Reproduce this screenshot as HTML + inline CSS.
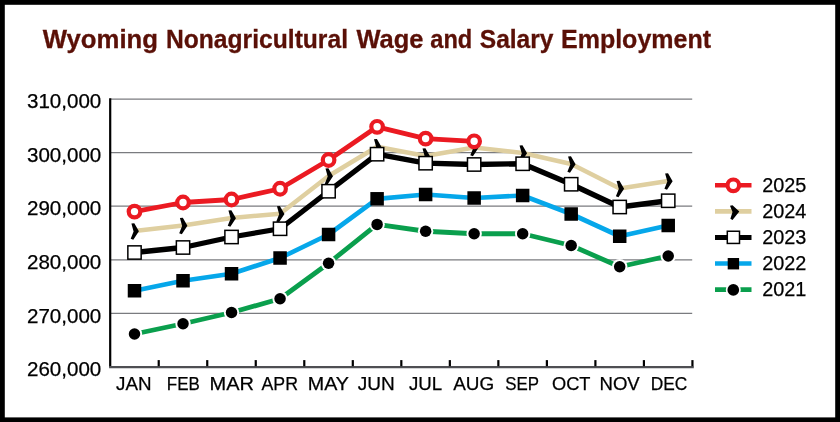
<!DOCTYPE html>
<html lang="en"><head><meta charset="utf-8"><title>Wyoming Nonagricultural Wage and Salary Employment</title>
<style>
html,body{margin:0;padding:0;background:#000;}
body{width:840px;height:422px;overflow:hidden;}
svg{display:block;}
text{font-family:"Liberation Sans",sans-serif;}
.t{font-weight:bold;font-size:24.9px;fill:#5a1007;stroke:#5a1007;stroke-width:0.3px;}
.y{font-size:19.7px;fill:#000;text-anchor:end;stroke:#000;stroke-width:0.25px;}
.x{font-size:18.8px;fill:#000;text-anchor:middle;stroke:#000;stroke-width:0.25px;}
.l{font-size:19.7px;fill:#000;stroke:#000;stroke-width:0.25px;}
</style></head><body>
<svg width="840" height="422" viewBox="0 0 840 422">
<rect x="0" y="0" width="840" height="422" fill="#000"/>
<rect x="4.8" y="4.8" width="830.4" height="412.6" fill="#fff"/>

<g class="t">
<text x="42.75" y="48.4" textLength="115.25" lengthAdjust="spacingAndGlyphs">Wyoming</text>
<text x="166.00" y="48.4" textLength="182.00" lengthAdjust="spacingAndGlyphs">Nonagricultural</text>
<text x="356.50" y="48.4" textLength="67.00" lengthAdjust="spacingAndGlyphs">Wage</text>
<text x="430.25" y="48.4" textLength="42.00" lengthAdjust="spacingAndGlyphs">and</text>
<text x="479.75" y="48.4" textLength="73.75" lengthAdjust="spacingAndGlyphs">Salary</text>
<text x="561.00" y="48.4" textLength="150.00" lengthAdjust="spacingAndGlyphs">Employment</text>
</g>
<line x1="110.2" y1="99.00" x2="692.2" y2="99.00" stroke="#7a7b7f" stroke-width="1.25"/>
<line x1="110.2" y1="152.62" x2="692.2" y2="152.62" stroke="#7a7b7f" stroke-width="1.25"/>
<line x1="110.2" y1="206.24" x2="692.2" y2="206.24" stroke="#7a7b7f" stroke-width="1.25"/>
<line x1="110.2" y1="259.86" x2="692.2" y2="259.86" stroke="#7a7b7f" stroke-width="1.25"/>
<line x1="110.2" y1="313.48" x2="692.2" y2="313.48" stroke="#7a7b7f" stroke-width="1.25"/>
<g class="y">
<text x="101.3" y="108.20" textLength="74.3" lengthAdjust="spacingAndGlyphs">310,000</text>
<text x="101.3" y="161.82" textLength="74.3" lengthAdjust="spacingAndGlyphs">300,000</text>
<text x="101.3" y="215.44" textLength="74.3" lengthAdjust="spacingAndGlyphs">290,000</text>
<text x="101.3" y="269.06" textLength="74.3" lengthAdjust="spacingAndGlyphs">280,000</text>
<text x="101.3" y="322.68" textLength="74.3" lengthAdjust="spacingAndGlyphs">270,000</text>
<text x="101.3" y="376.30" textLength="74.3" lengthAdjust="spacingAndGlyphs">260,000</text>
</g>
<g class="x">
<text x="133.75" y="389.7" textLength="35.50" lengthAdjust="spacingAndGlyphs">JAN</text>
<text x="183.30" y="389.7" textLength="33.00" lengthAdjust="spacingAndGlyphs">FEB</text>
<text x="231.75" y="389.7" textLength="44.50" lengthAdjust="spacingAndGlyphs">MAR</text>
<text x="279.75" y="389.7" textLength="36.50" lengthAdjust="spacingAndGlyphs">APR</text>
<text x="328.40" y="389.7" textLength="41.25" lengthAdjust="spacingAndGlyphs">MAY</text>
<text x="376.25" y="389.7" textLength="37.00" lengthAdjust="spacingAndGlyphs">JUN</text>
<text x="425.60" y="389.7" textLength="33.25" lengthAdjust="spacingAndGlyphs">JUL</text>
<text x="473.75" y="389.7" textLength="41.00" lengthAdjust="spacingAndGlyphs">AUG</text>
<text x="522.10" y="389.7" textLength="33.75" lengthAdjust="spacingAndGlyphs">SEP</text>
<text x="571.25" y="389.7" textLength="38.50" lengthAdjust="spacingAndGlyphs">OCT</text>
<text x="619.60" y="389.7" textLength="40.25" lengthAdjust="spacingAndGlyphs">NOV</text>
<text x="669.00" y="389.7" textLength="36.50" lengthAdjust="spacingAndGlyphs">DEC</text>
</g>
<polyline points="134.50,334.00 183.02,323.75 231.54,312.50 280.06,298.75 328.58,263.25 377.10,224.40 425.62,231.25 474.14,233.75 522.66,233.75 571.18,245.50 619.70,266.75 668.22,256.00" fill="none" stroke="#0a9f4d" stroke-width="4.8" stroke-linejoin="round"/>
<circle cx="134.50" cy="334.00" r="7.7" fill="#fff"/><circle cx="134.50" cy="334.00" r="5.75" fill="#000"/>
<circle cx="183.02" cy="323.75" r="7.7" fill="#fff"/><circle cx="183.02" cy="323.75" r="5.75" fill="#000"/>
<circle cx="231.54" cy="312.50" r="7.7" fill="#fff"/><circle cx="231.54" cy="312.50" r="5.75" fill="#000"/>
<circle cx="280.06" cy="298.75" r="7.7" fill="#fff"/><circle cx="280.06" cy="298.75" r="5.75" fill="#000"/>
<circle cx="328.58" cy="263.25" r="7.7" fill="#fff"/><circle cx="328.58" cy="263.25" r="5.75" fill="#000"/>
<circle cx="377.10" cy="224.40" r="7.7" fill="#fff"/><circle cx="377.10" cy="224.40" r="5.75" fill="#000"/>
<circle cx="425.62" cy="231.25" r="7.7" fill="#fff"/><circle cx="425.62" cy="231.25" r="5.75" fill="#000"/>
<circle cx="474.14" cy="233.75" r="7.7" fill="#fff"/><circle cx="474.14" cy="233.75" r="5.75" fill="#000"/>
<circle cx="522.66" cy="233.75" r="7.7" fill="#fff"/><circle cx="522.66" cy="233.75" r="5.75" fill="#000"/>
<circle cx="571.18" cy="245.50" r="7.7" fill="#fff"/><circle cx="571.18" cy="245.50" r="5.75" fill="#000"/>
<circle cx="619.70" cy="266.75" r="7.7" fill="#fff"/><circle cx="619.70" cy="266.75" r="5.75" fill="#000"/>
<circle cx="668.22" cy="256.00" r="7.7" fill="#fff"/><circle cx="668.22" cy="256.00" r="5.75" fill="#000"/>
<polyline points="134.50,290.75 183.02,280.75 231.54,273.75 280.06,258.00 328.58,234.50 377.10,198.80 425.62,194.50 474.14,198.00 522.66,195.50 571.18,214.00 619.70,236.25 668.22,225.50" fill="none" stroke="#06a7ea" stroke-width="4.7" stroke-linejoin="round"/>
<rect x="127.75" y="284.00" width="13.5" height="13.5" fill="#000"/>
<rect x="176.27" y="274.00" width="13.5" height="13.5" fill="#000"/>
<rect x="224.79" y="267.00" width="13.5" height="13.5" fill="#000"/>
<rect x="273.31" y="251.25" width="13.5" height="13.5" fill="#000"/>
<rect x="321.83" y="227.75" width="13.5" height="13.5" fill="#000"/>
<rect x="370.35" y="192.05" width="13.5" height="13.5" fill="#000"/>
<rect x="418.87" y="187.75" width="13.5" height="13.5" fill="#000"/>
<rect x="467.39" y="191.25" width="13.5" height="13.5" fill="#000"/>
<rect x="515.91" y="188.75" width="13.5" height="13.5" fill="#000"/>
<rect x="564.43" y="207.25" width="13.5" height="13.5" fill="#000"/>
<rect x="612.95" y="229.50" width="13.5" height="13.5" fill="#000"/>
<rect x="661.47" y="218.75" width="13.5" height="13.5" fill="#000"/>
<polyline points="134.50,231.00 183.02,225.50 231.54,218.00 280.06,213.75 328.58,176.00 377.10,146.70 425.62,156.00 474.14,147.50 522.66,153.00 571.18,164.00 619.70,188.50 668.22,181.00" fill="none" stroke="#dfcfa0" stroke-width="4.5" stroke-linejoin="round"/>
<polygon points="131.40,223.50 134.30,223.20 138.90,231.20 133.30,239.80 130.70,238.70 133.60,231.50" fill="#000"/>
<polygon points="179.92,218.00 182.82,217.70 187.42,225.70 181.82,234.30 179.22,233.20 182.12,226.00" fill="#000"/>
<polygon points="228.44,210.50 231.34,210.20 235.94,218.20 230.34,226.80 227.74,225.70 230.64,218.50" fill="#000"/>
<polygon points="276.96,206.25 279.86,205.95 284.46,213.95 278.86,222.55 276.26,221.45 279.16,214.25" fill="#000"/>
<polygon points="325.48,168.50 328.38,168.20 332.98,176.20 327.38,184.80 324.78,183.70 327.68,176.50" fill="#000"/>
<polygon points="374.00,139.20 376.90,138.90 381.50,146.90 375.90,155.50 373.30,154.40 376.20,147.20" fill="#000"/>
<polygon points="422.52,148.50 425.42,148.20 430.02,156.20 424.42,164.80 421.82,163.70 424.72,156.50" fill="#000"/>
<polygon points="471.04,140.00 473.94,139.70 478.54,147.70 472.94,156.30 470.34,155.20 473.24,148.00" fill="#000"/>
<polygon points="519.56,145.50 522.46,145.20 527.06,153.20 521.46,161.80 518.86,160.70 521.76,153.50" fill="#000"/>
<polygon points="568.08,156.50 570.98,156.20 575.58,164.20 569.98,172.80 567.38,171.70 570.28,164.50" fill="#000"/>
<polygon points="616.60,181.00 619.50,180.70 624.10,188.70 618.50,197.30 615.90,196.20 618.80,189.00" fill="#000"/>
<polygon points="665.12,173.50 668.02,173.20 672.62,181.20 667.02,189.80 664.42,188.70 667.32,181.50" fill="#000"/>
<polyline points="134.50,252.50 183.02,247.50 231.54,237.00 280.06,228.75 328.58,191.25 377.10,154.20 425.62,163.20 474.14,164.50 522.66,163.75 571.18,184.25 619.70,207.00 668.22,200.75" fill="none" stroke="#000" stroke-width="5.3" stroke-linejoin="round"/>
<rect x="127.85" y="245.85" width="13.3" height="13.3" fill="#fff" stroke="#000" stroke-width="1.5"/>
<rect x="176.37" y="240.85" width="13.3" height="13.3" fill="#fff" stroke="#000" stroke-width="1.5"/>
<rect x="224.89" y="230.35" width="13.3" height="13.3" fill="#fff" stroke="#000" stroke-width="1.5"/>
<rect x="273.41" y="222.10" width="13.3" height="13.3" fill="#fff" stroke="#000" stroke-width="1.5"/>
<rect x="321.93" y="184.60" width="13.3" height="13.3" fill="#fff" stroke="#000" stroke-width="1.5"/>
<rect x="370.45" y="147.55" width="13.3" height="13.3" fill="#fff" stroke="#000" stroke-width="1.5"/>
<rect x="418.97" y="156.55" width="13.3" height="13.3" fill="#fff" stroke="#000" stroke-width="1.5"/>
<rect x="467.49" y="157.85" width="13.3" height="13.3" fill="#fff" stroke="#000" stroke-width="1.5"/>
<rect x="516.01" y="157.10" width="13.3" height="13.3" fill="#fff" stroke="#000" stroke-width="1.5"/>
<rect x="564.53" y="177.60" width="13.3" height="13.3" fill="#fff" stroke="#000" stroke-width="1.5"/>
<rect x="613.05" y="200.35" width="13.3" height="13.3" fill="#fff" stroke="#000" stroke-width="1.5"/>
<rect x="661.57" y="194.10" width="13.3" height="13.3" fill="#fff" stroke="#000" stroke-width="1.5"/>
<polyline points="134.50,211.60 183.02,202.50 231.54,199.50 280.06,188.75 328.58,160.00 377.10,126.80 425.62,138.60 474.14,141.30" fill="none" stroke="#eb1a22" stroke-width="4.8" stroke-linejoin="round"/>
<circle cx="134.50" cy="211.60" r="5.8" fill="#fff" stroke="#eb1a22" stroke-width="4.2"/>
<circle cx="183.02" cy="202.50" r="5.8" fill="#fff" stroke="#eb1a22" stroke-width="4.2"/>
<circle cx="231.54" cy="199.50" r="5.8" fill="#fff" stroke="#eb1a22" stroke-width="4.2"/>
<circle cx="280.06" cy="188.75" r="5.8" fill="#fff" stroke="#eb1a22" stroke-width="4.2"/>
<circle cx="328.58" cy="160.00" r="5.8" fill="#fff" stroke="#eb1a22" stroke-width="4.2"/>
<circle cx="377.10" cy="126.80" r="5.8" fill="#fff" stroke="#eb1a22" stroke-width="4.2"/>
<circle cx="425.62" cy="138.60" r="5.8" fill="#fff" stroke="#eb1a22" stroke-width="4.2"/>
<circle cx="474.14" cy="141.30" r="5.8" fill="#fff" stroke="#eb1a22" stroke-width="4.2"/>
<line x1="110.2" y1="98.3" x2="110.2" y2="367" stroke="#000" stroke-width="2.2"/>
<line x1="109.1" y1="367.1" x2="693.8" y2="367.1" stroke="#4e4f53" stroke-width="2.4"/>
<line x1="158.72" y1="360.1" x2="158.72" y2="366.2" stroke="#000" stroke-width="2.2"/>
<line x1="207.24" y1="360.1" x2="207.24" y2="366.2" stroke="#000" stroke-width="2.2"/>
<line x1="255.76" y1="360.1" x2="255.76" y2="366.2" stroke="#000" stroke-width="2.2"/>
<line x1="304.28" y1="360.1" x2="304.28" y2="366.2" stroke="#000" stroke-width="2.2"/>
<line x1="352.80" y1="360.1" x2="352.80" y2="366.2" stroke="#000" stroke-width="2.2"/>
<line x1="401.32" y1="360.1" x2="401.32" y2="366.2" stroke="#000" stroke-width="2.2"/>
<line x1="449.84" y1="360.1" x2="449.84" y2="366.2" stroke="#000" stroke-width="2.2"/>
<line x1="498.36" y1="360.1" x2="498.36" y2="366.2" stroke="#000" stroke-width="2.2"/>
<line x1="546.88" y1="360.1" x2="546.88" y2="366.2" stroke="#000" stroke-width="2.2"/>
<line x1="595.40" y1="360.1" x2="595.40" y2="366.2" stroke="#000" stroke-width="2.2"/>
<line x1="643.92" y1="360.1" x2="643.92" y2="366.2" stroke="#000" stroke-width="2.2"/>
<line x1="692.44" y1="360.1" x2="692.44" y2="366.2" stroke="#000" stroke-width="2.2"/>
<line x1="715" y1="185.30" x2="751.5" y2="185.30" stroke="#eb1a22" stroke-width="4.6"/><circle cx="733.3" cy="185.30" r="5.8" fill="#fff" stroke="#eb1a22" stroke-width="4.2"/>
<line x1="715" y1="211.37" x2="751.5" y2="211.37" stroke="#dfcfa0" stroke-width="4.6"/><polygon points="730.00,205.67 732.50,205.37 739.30,211.57 732.50,219.97 730.40,218.87 732.50,212.07" fill="#000"/>
<line x1="715" y1="237.44" x2="751.5" y2="237.44" stroke="#000" stroke-width="5.1"/><rect x="727.30" y="231.24" width="12.2" height="12.2" fill="#fff" stroke="#000" stroke-width="1.5"/>
<line x1="715" y1="263.51" x2="751.5" y2="263.51" stroke="#06a7ea" stroke-width="4.4"/><rect x="727.70" y="258.01" width="11.4" height="11.4" fill="#000"/>
<line x1="715" y1="289.58" x2="751.5" y2="289.58" stroke="#0a9f4d" stroke-width="4.6"/><circle cx="733.3" cy="289.88" r="7.5" fill="#fff"/><circle cx="733.3" cy="289.88" r="5.85" fill="#000"/>
<g class="l">
<text x="762.2" y="191.70" textLength="44.2" lengthAdjust="spacingAndGlyphs">2025</text>
<text x="762.2" y="217.77" textLength="44.2" lengthAdjust="spacingAndGlyphs">2024</text>
<text x="762.2" y="243.84" textLength="44.2" lengthAdjust="spacingAndGlyphs">2023</text>
<text x="762.2" y="269.91" textLength="44.2" lengthAdjust="spacingAndGlyphs">2022</text>
<text x="762.2" y="295.98" textLength="44.2" lengthAdjust="spacingAndGlyphs">2021</text>
</g>
</svg></body></html>
